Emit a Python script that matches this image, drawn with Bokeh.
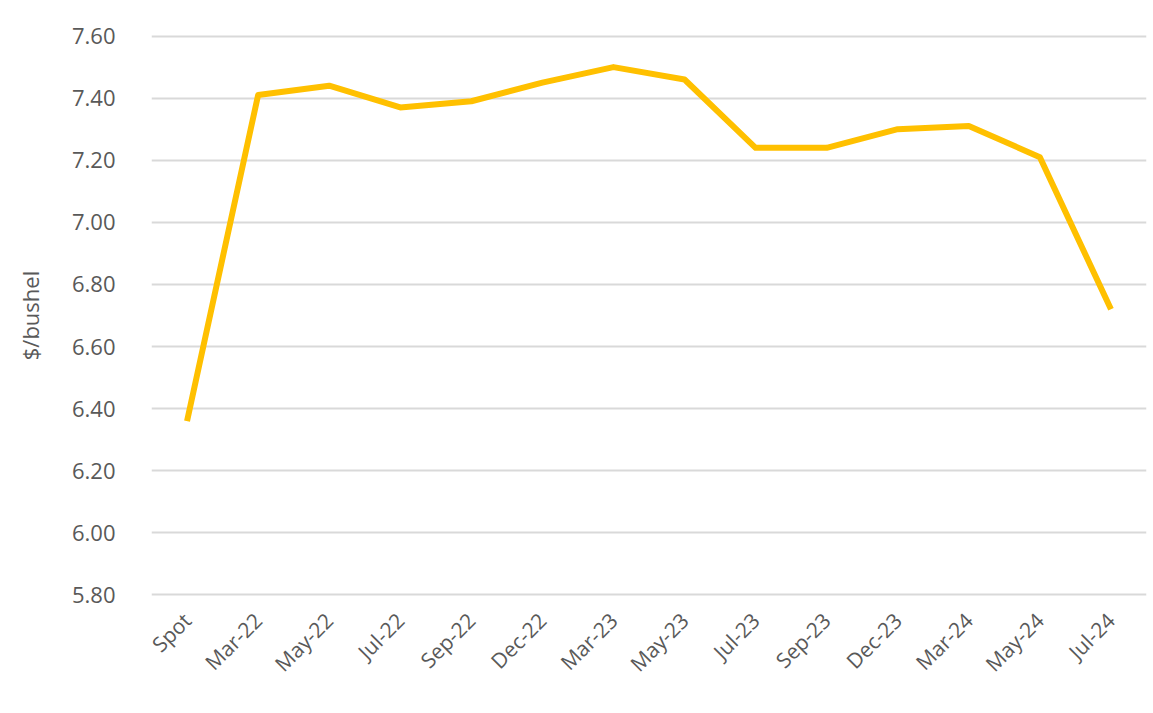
import math
from bokeh.plotting import figure
from bokeh.models import Range1d, FactorRange, FixedTicker
from bokeh.embed import file_html
from bokeh.resources import INLINE

categories = ["Spot", "Mar-22", "May-22", "Jul-22", "Sep-22", "Dec-22", "Mar-23",
              "May-23", "Jul-23", "Sep-23", "Dec-23", "Mar-24", "May-24", "Jul-24"]
prices = [6.36, 7.41, 7.44, 7.37, 7.39, 7.45, 7.50, 7.46, 7.24, 7.24, 7.30, 7.31, 7.21, 6.72]
y_ticks = [5.80, 6.00, 6.20, 6.40, 6.60, 6.80, 7.00, 7.20, 7.40, 7.60]
y_tick_labels = {t: f"{t:.2f}" for t in y_ticks}

p = figure(width=1153, height=713, output_backend="svg", toolbar_location=None,
           x_range=FactorRange(factors=categories, range_padding=0),
           y_range=Range1d(5.795, 7.605),
           min_border_left=151, min_border_right=7, min_border_top=34, min_border_bottom=117)
p.outline_line_color = None
p.background_fill_color = "white"
p.border_fill_color = "white"

p.line(categories, prices, line_color="#FFC000", line_width=6, line_join="round")

p.yaxis.ticker = FixedTicker(ticks=y_ticks)
p.yaxis.major_label_overrides = y_tick_labels
p.ygrid.ticker = FixedTicker(ticks=y_ticks)
p.ygrid.grid_line_color = "#d9d9d9"
p.ygrid.grid_line_width = 2
p.xgrid.grid_line_color = None

for ax in (p.xaxis[0], p.yaxis[0]):
    ax.axis_line_color = None
    ax.major_tick_line_color = None
    ax.minor_tick_line_color = None
    ax.major_label_text_color = "#595959"
    ax.major_label_text_font = "Open Sans"

p.yaxis.major_label_text_font_size = "22px"
p.yaxis.major_label_standoff = 30
p.yaxis.axis_label = "$/bushel"
p.yaxis.axis_label_text_font = "Open Sans"
p.yaxis.axis_label_text_font_size = "22px"
p.yaxis.axis_label_text_font_style = "normal"
p.yaxis.axis_label_text_color = "#595959"
p.yaxis.axis_label_standoff = 24

p.xaxis.major_label_text_font_size = "21px"
p.xaxis.major_label_orientation = math.pi / 4
p.xaxis.major_label_standoff = 14

open("out.html", "w").write(file_html(p, INLINE))
